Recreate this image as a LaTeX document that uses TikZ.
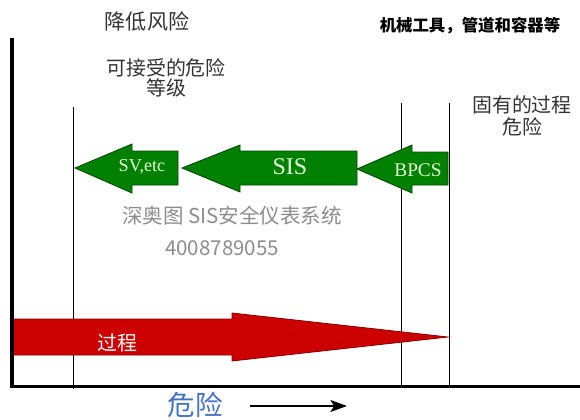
\documentclass[tikz,border=0pt]{standalone}
\usepackage{fontspec}
\setmainfont{Liberation Serif}
\newfontfamily\cjk{Noto Sans CJK SC}
\usepackage{tikz}
\usetikzlibrary{arrows.meta}
\definecolor{layergreen}{RGB}{0,128,0}
\definecolor{layerborder}{RGB}{0,70,0}
\definecolor{layerink}{RGB}{225,255,210}
\definecolor{processred}{RGB}{204,0,0}
\definecolor{processborder}{RGB}{140,0,0}
\definecolor{riskblue}{RGB}{68,114,196}
\definecolor{markgray}{RGB}{140,140,140}
\tikzset{axis/.style={line width=3.2pt}}
\tikzset{guide/.style={line width=0.8pt}}
\tikzset{layer/.style={fill=layergreen, draw=layerborder, line width=0.7pt}}
\tikzset{layertext/.style={text=layerink, inner sep=0pt}}
\tikzset{cjktext/.style={text=black!80, inner sep=0pt, align=center, font=\cjk\fontsize{17}{19}\selectfont}}
\tikzset{marktext/.style={text=markgray, inner sep=0pt, font=\cjk\fontsize{17.5}{20}\selectfont}}

\begin{document}
\begin{tikzpicture}[x=0.03cm, y=-0.03cm]
\useasboundingbox (0,0) rectangle (580,420);

% risk level guide lines
\coordinate (acctop) at (73,107);
\coordinate (accbot) at (73,389);
\coordinate (bpcstop) at (401,103);
\coordinate (bpcsbot) at (401,386);
\coordinate (inhtop) at (449,103);
\coordinate (inhbot) at (449,386);
\draw[guide] (acctop)--(accbot);
\draw[guide] (bpcstop)--(bpcsbot);
\draw[guide] (inhtop)--(inhbot);

% protection layers
\draw[layer] (75,168)--(132,144)--(132,151)--(178,151)--(178,185)--(132,185)--(132,193)--cycle;
\draw[layer] (182,168)--(240,145)--(240,151)--(357,151)--(357,185)--(240,185)--(240,192)--cycle;
\draw[layer] (357,169)--(412,145)--(412,152)--(448,152)--(448,185)--(412,185)--(412,193)--cycle;
\node (sv) at (142,167)[layertext, font=\fontsize{15.5}{18}\selectfont]{SV,etc};
\node (sis) at (290,167)[layertext, font=\fontsize{20.5}{24}\selectfont]{SIS};
\node (bpcs) at (418,170)[layertext, font=\fontsize{16.5}{19}\selectfont]{BPCS};

%process risk
\draw[fill=processred, draw=processborder, line width=0.7pt] (11,319)--(232,319)--(232,313)--(448,337)--(232,361)--(232,355)--(11,355)--cycle;
\node (process) at (117,343)[text=white, inner sep=0pt, font=\cjk\fontsize{17}{20}\selectfont]{过程};

% axes
\coordinate (ytop) at (12,38);
\coordinate (origin) at (12,386.5);
\coordinate (xend) at (580,386.5);
\draw[axis] (ytop)--(origin)--(xend);

% labels
\node (reduce) at (147,21)[cjktext, font=\cjk\fontsize{18}{20}\selectfont]{降低风险};
\node (accept) at (166,78)[cjktext, font=\cjk\fontsize{17}{17}\selectfont]{可接受的危险\\等级};
\node (inherent) at (522,116)[cjktext, font=\cjk\fontsize{17}{19.5}\selectfont]{固有的过程\\危险};
\node (equip) at (470,26)[text=black, inner sep=0pt, font=\cjk\bfseries\fontsize{14}{16}\selectfont]{机械工具，管道和容器等};
\node (mark) at (232,216)[marktext]{深奥图 SIS安全仪表系统};
\node (phone) at (222,248)[marktext]{4008789055};

\node (risk) at (195,405)[text=riskblue, inner sep=0pt, font=\cjk\fontsize{23.5}{26}\selectfont]{危险};
\coordinate (riskstart) at (250,406);
\coordinate (riskend) at (347,406);
\draw[line width=2.4pt, -{Stealth[length=14pt, width=10pt, inset=3pt]}] (riskstart)--(riskend);
\end{tikzpicture}
\end{document}
